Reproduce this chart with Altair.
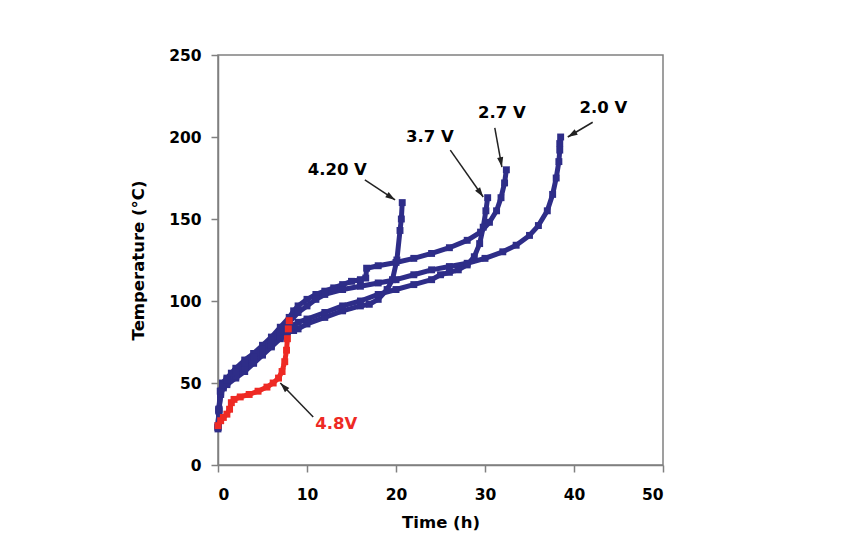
import math
import altair as alt
import pandas as pd

# ---- data ----
t_420 = [0, 0.1, 0.3, 0.6, 1, 2, 3, 4, 5, 6, 7, 7.8, 8.5, 9, 10, 12, 14, 16, 17, 18, 19, 19.6, 20.1, 20.45, 20.6, 20.7]
T_420 = [23, 33, 43, 47, 49, 53, 57, 62, 67, 72, 77, 81, 82, 83, 86, 90, 94, 97, 98, 101, 107, 113, 125, 143, 150, 160]

t_37 = [0, 0.1, 0.3, 0.6, 1, 2, 3, 4, 5, 6, 7, 7.8, 8.5, 9, 10, 12, 14, 16, 18, 20, 22, 24, 25, 26, 27, 28, 28.8, 29.4, 29.8, 30.1, 30.3]
T_37 = [23, 33, 44, 48, 50, 54, 59, 63, 68, 73, 78, 83, 85, 87, 89, 93, 97, 100, 104, 107, 110, 113, 116, 117.5, 119, 122, 127, 135, 145, 155, 163]

t_27 = [0, 0.1, 0.25, 0.5, 1, 1.5, 2, 3, 4, 5, 6, 7, 8, 8.5, 9, 10, 11, 12, 13, 14, 15, 16, 16.6, 16.7, 18, 20, 22, 24, 26, 28, 29.5, 30.5, 31.3, 31.8, 32.2, 32.4]
T_27 = [22, 34, 45, 50, 53, 56, 59, 64, 68, 73, 78, 84, 90, 94, 97, 101, 104, 106, 108, 110, 112, 113, 114, 120, 121.5, 123.5, 126, 129, 132.5, 137, 142, 148, 155, 163, 172, 180]

t_20 = [0, 0.1, 0.3, 0.6, 1, 2, 3, 4, 5, 6, 7, 8, 9, 10, 11, 12, 14, 16, 18, 20, 22, 24, 26, 28, 30, 32, 33.5, 35, 36, 37, 37.6, 38, 38.3, 38.4, 38.4, 38.5]
T_20 = [24, 34, 45, 49, 52, 57, 62, 66, 71, 76, 81, 87, 93, 97, 101, 104, 107, 109, 111, 113, 116, 119, 121, 123, 126, 130, 134, 140, 146, 155, 165, 175, 185, 192, 196, 200]

t_48 = [0, 0.3, 0.6, 1, 1.3, 1.5, 1.8, 2.5, 3.5, 4.5, 5.5, 6.2, 6.8, 7.2, 7.5, 7.7, 7.8, 7.9, 8.0]
T_48 = [24, 27, 29, 31, 34, 38, 40, 41.5, 43, 45, 47.5, 50, 53, 57, 63, 70, 77, 83, 88]

series_names = ["4.20 V", "3.7 V", "2.7 V", "2.0 V", "4.8V"]
series_t = [t_420, t_37, t_27, t_20, t_48]
series_T = [T_420, T_37, T_27, T_20, T_48]
series_colors = ["#2e2d88", "#2e2d88", "#2e2d88", "#2e2d88", "#ee2a24"]

# annotation labels and arrows (data coordinates)
lab_text = ["4.20 V", "3.7 V", "2.7 V", "2.0 V", "4.8V"]
lab_t = [13.4, 23.8, 31.9, 43.3, 13.3]
lab_T = [180, 200, 214.6, 217.7, 25]
lab_col = ["black", "black", "black", "black", "#ee2a24"]

arr_t0 = [16.5, 26.1, 31.1, 42.1, 10.7]
arr_T0 = [173.8, 192, 205.5, 209, 29.3]
arr_t1 = [19.9, 29.8, 31.9, 39.3, 7.0]
arr_T1 = [161.6, 163.4, 181.7, 200, 50]

W, H = 445, 410
X_MAX, Y_MAX = 50, 250
FONT = "DejaVu Sans"

rows = []
for name, ts, Ts in zip(series_names, series_t, series_T):
    for i, (a, b) in enumerate(zip(ts, Ts)):
        rows.append({"series": name, "t": a, "T": b, "i": i})
df = pd.DataFrame(rows)

sx, sy = W / X_MAX, H / Y_MAX
angs = []
for a0, b0, a1, b1 in zip(arr_t0, arr_T0, arr_t1, arr_T1):
    dx = (a1 - a0) * sx
    dy = -(b1 - b0) * sy
    angs.append(math.degrees(math.atan2(dx, -dy)) % 360)
arr = pd.DataFrame({"t0": arr_t0, "T0": arr_T0, "t1": arr_t1, "T1": arr_T1, "ang": angs})
labs = pd.DataFrame({"text": lab_text, "t": lab_t, "T": lab_T, "col": lab_col})

xs = alt.Scale(domain=[0, X_MAX], nice=False, zero=False)
ys = alt.Scale(domain=[0, Y_MAX], nice=False, zero=False)
color = alt.Color("series:N", scale=alt.Scale(domain=series_names, range=series_colors), legend=None)

base = alt.Chart(df)
lines = base.mark_line(strokeWidth=5, strokeJoin="round").encode(
    x=alt.X("t:Q", scale=xs, title="Time (h)",
            axis=alt.Axis(values=[0, 10, 20, 30, 40, 50], labelPadding=15, titlePadding=12)),
    y=alt.Y("T:Q", scale=ys, title="Temperature (°C)",
            axis=alt.Axis(values=[0, 50, 100, 150, 200, 250], labelPadding=10, titlePadding=22)),
    color=color,
    detail="series:N",
    order="i:Q",
)
points = base.mark_point(shape="square", filled=True, size=48, opacity=1).encode(
    x=alt.X("t:Q", scale=xs), y=alt.Y("T:Q", scale=ys), color=color
)

rules = alt.Chart(arr).mark_rule(color="#222222", strokeWidth=1.5).encode(
    x=alt.X("t0:Q", scale=xs), y=alt.Y("T0:Q", scale=ys), x2="t1:Q", y2="T1:Q"
)
heads = alt.Chart(arr).mark_point(
    shape="M0,0L0.5,1.6L-0.5,1.6Z", filled=True, color="#222222", size=150, opacity=1
).encode(
    x=alt.X("t1:Q", scale=xs), y=alt.Y("T1:Q", scale=ys), angle=alt.Angle("ang:Q", scale=None)
)
texts = alt.Chart(labs).mark_text(
    font=FONT, fontWeight="bold", fontSize=16.5, align="center", baseline="middle"
).encode(
    x=alt.X("t:Q", scale=xs), y=alt.Y("T:Q", scale=ys), text="text:N",
    color=alt.Color("col:N", scale=None)
)

chart = (
    alt.layer(lines, points, rules, heads, texts)
    .properties(
        width=W, height=H,
        autosize=alt.AutoSizeParams(type="none"),
        padding={"left": 210, "top": 47, "right": 193, "bottom": 67},
        background="white",
    )
    .configure_view(stroke="#808080", strokeWidth=1.5)
    .configure_axis(
        grid=False,
        domainColor="#808080", domainWidth=1.5,
        tickColor="#808080", tickWidth=1.5, tickSize=7,
        labelFont=FONT, labelFontWeight="bold", labelFontSize=15.5, labelColor="black",
        titleFont=FONT, titleFontWeight="bold", titleFontSize=16.5, titleColor="black",
    )
)

chart.save("out.html", embed_options={"renderer": "svg", "actions": False})
